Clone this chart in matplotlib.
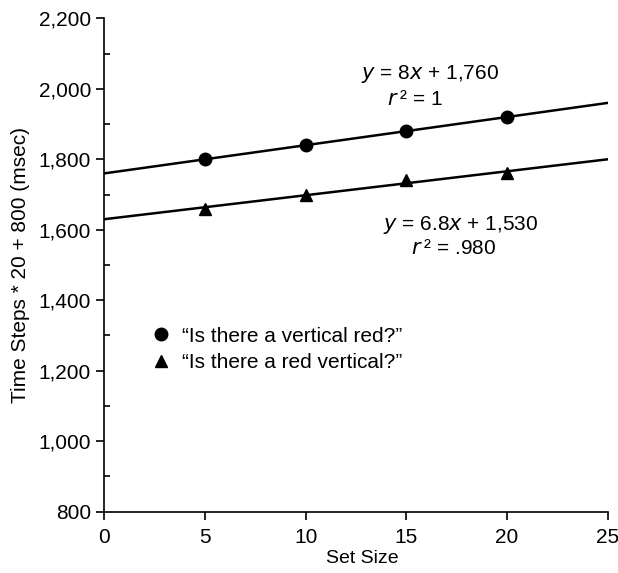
import matplotlib
matplotlib.use('Agg')
import matplotlib.pyplot as plt
from matplotlib.ticker import MultipleLocator, FuncFormatter
import numpy as np

plt.rcParams['font.family'] = ['Liberation Sans', 'DejaVu Sans']

# data
set_size = [5, 10, 15, 20]
vertical_red = [1800, 1840, 1880, 1920]
red_vertical = [1660, 1700, 1740, 1760]
labels = ['\u201cIs there a vertical red?\u201d', '\u201cIs there a red vertical?\u201d']

fig = plt.figure(figsize=(6.18, 5.73), dpi=100)
ax = fig.add_axes([0.1688, 0.107, 0.8145, 0.861])

# fitted lines across the whole x range
xs = np.array([0, 25])
for ys in (vertical_red, red_vertical):
    m, b = np.polyfit(set_size, ys, 1)
    ax.plot(xs, m * xs + b, color='black', lw=1.8, zorder=2)

ax.plot(set_size, vertical_red, 'o', color='black', ms=9, label=labels[0], zorder=3)
ax.plot(set_size, red_vertical, '^', color='black', ms=9, label=labels[1], zorder=3)

ax.text(16.15, 2027, r'$y$ = 8$x$ + 1,760', ha='center', va='baseline', fontsize=15)
ax.text(15.45, 1954, '$r$\u2009\u00b2 = 1', ha='center', va='baseline', fontsize=15)
ax.text(17.7, 1600, r'$y$ = 6.8$x$ + 1,530', ha='center', va='baseline', fontsize=15)
ax.text(17.37, 1530, '$r$\u2009\u00b2 = .980', ha='center', va='baseline', fontsize=15)

ax.legend(loc='upper left', bbox_to_anchor=(0.075, 0.392), frameon=False,
          fontsize=15, handletextpad=0.5, labelspacing=0.35, handlelength=1.0,
          borderaxespad=0)

ax.set_xlim(0, 25)
ax.set_ylim(800, 2200)
ax.xaxis.set_major_locator(MultipleLocator(5))
ax.yaxis.set_major_locator(MultipleLocator(200))
ax.yaxis.set_minor_locator(MultipleLocator(100))
ax.yaxis.set_major_formatter(FuncFormatter(lambda v, p: f'{int(v):,}'))
ax.spines['top'].set_visible(False)
ax.spines['right'].set_visible(False)
ax.spines['left'].set_linewidth(1.2)
ax.spines['bottom'].set_linewidth(1.2)
ax.tick_params(axis='both', which='major', direction='out', length=6, width=1.2, labelsize=15)
ax.tick_params(axis='x', which='major', pad=6)
ax.tick_params(axis='y', which='minor', direction='in', length=4, width=1.2)

ax.set_xlabel('Set Size', fontsize=14, labelpad=4)
ax.xaxis.set_label_coords(0.513, -0.078)
ax.set_ylabel('Time Steps * 20 + 800 (msec)', fontsize=15, labelpad=6)

fig.savefig('out.png', dpi=100)
